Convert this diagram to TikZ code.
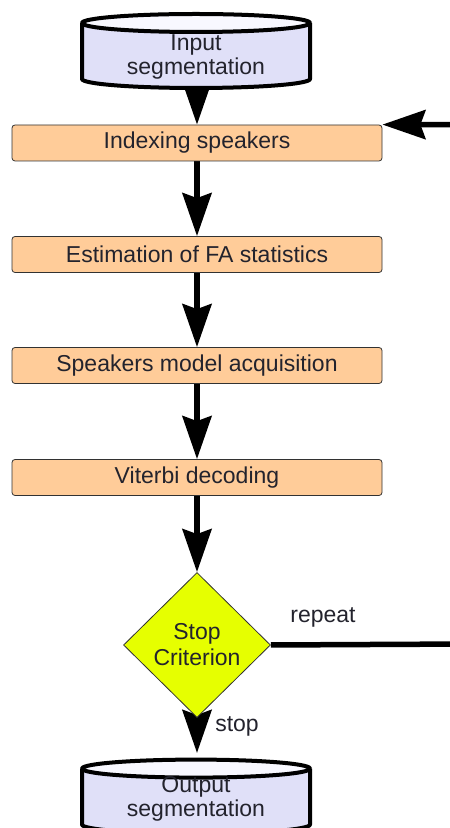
\documentclass[tikz,border=0pt]{standalone}
\usepackage{fontspec}
\setmainfont{Liberation Sans}
\usetikzlibrary{arrows.meta,shapes.geometric,backgrounds}
\definecolor{boxfill}{RGB}{255,204,153}
\definecolor{boxline}{RGB}{50,50,50}
\definecolor{cylfill}{RGB}{224,224,248}
\definecolor{cyltop}{RGB}{248,248,255}
\definecolor{decfill}{RGB}{230,255,0}
\definecolor{txt}{RGB}{35,35,45}
\newcommand\mycyl[2]{%
  \fill[cylfill] (82,#2) -- (82,#1) -- (310,#1) -- (310,#2)
    arc[start angle=0,end angle=-180,x radius=114pt,y radius=9pt] -- cycle;
  \draw[cylline] (82,#1) -- (82,#2)
    arc[start angle=180,end angle=360,x radius=114pt,y radius=9pt] -- (310,#1);
  \draw[cylline,fill=cyltop] (196,#1) ellipse[x radius=114pt,y radius=9pt];}
\begin{document}
\begin{tikzpicture}[x=1pt,y=1pt,
  stepbox/.style={draw=boxline,line width=0.8pt,fill=boxfill,rounded corners=3pt,
    minimum width=370pt,minimum height=36pt,inner sep=0pt,text=txt,
    font=\fontsize{23}{24}\selectfont},
  lbl/.style={text=txt,inner sep=0pt,align=center,font=\fontsize{23}{23.5}\selectfont},
  decision/.style={diamond,draw=boxline,line width=0.8pt,fill=decfill,
    minimum width=147pt,minimum height=145pt,inner sep=0pt,aspect=1,
    text=txt,align=center,font=\fontsize{23}{26}\selectfont},
  conn/.style={line width=5.5pt,-{Stealth[length=43pt,width=29pt,inset=5pt]}},
  cylline/.style={line width=4pt,line join=round}]
\useasboundingbox (0,0) rectangle (450,828);
% input cylinder
\mycyl{805}{749}
\node[lbl] (inp) at (196,771) {Input\\segmentation};
\coordinate (inbot) at (197,760);
% steps
\node[stepbox] (idx) at (197,685) {Indexing speakers};
\node[stepbox] (est) at (197,573.5) {Estimation of FA statistics};
\node[stepbox] (spk) at (197,462.5) {Speakers model acquisition};
\node[stepbox] (vit) at (197,350.5) {Viterbi decoding};
% decision
\node[decision] (dec) at (197,183) {Stop\\Criterion};
\coordinate (rpt) at (470,184);
\node[lbl] (rep) at (323,211) {repeat};
\node[lbl] (stp) at (237,102) {stop};
% output cylinder
\mycyl{59.4}{3.4}
\coordinate (outtop) at (197,75);
\node[lbl] (out) at (196,29) {Output\\segmentation};
% connectors
\begin{scope}[on background layer]
\draw[conn] (inbot) -- (idx.north);
\draw[conn] (idx.south) -- (est.north);
\draw[conn] (est.south) -- (spk.north);
\draw[conn] (spk.south) -- (vit.north);
\draw[conn] (vit.south) -- (dec.north);
\draw[conn] (dec.south) -- (outtop);
\draw[conn] (dec.east) -- (rpt) |- (idx.north east);
\end{scope}
\end{tikzpicture}
\end{document}
